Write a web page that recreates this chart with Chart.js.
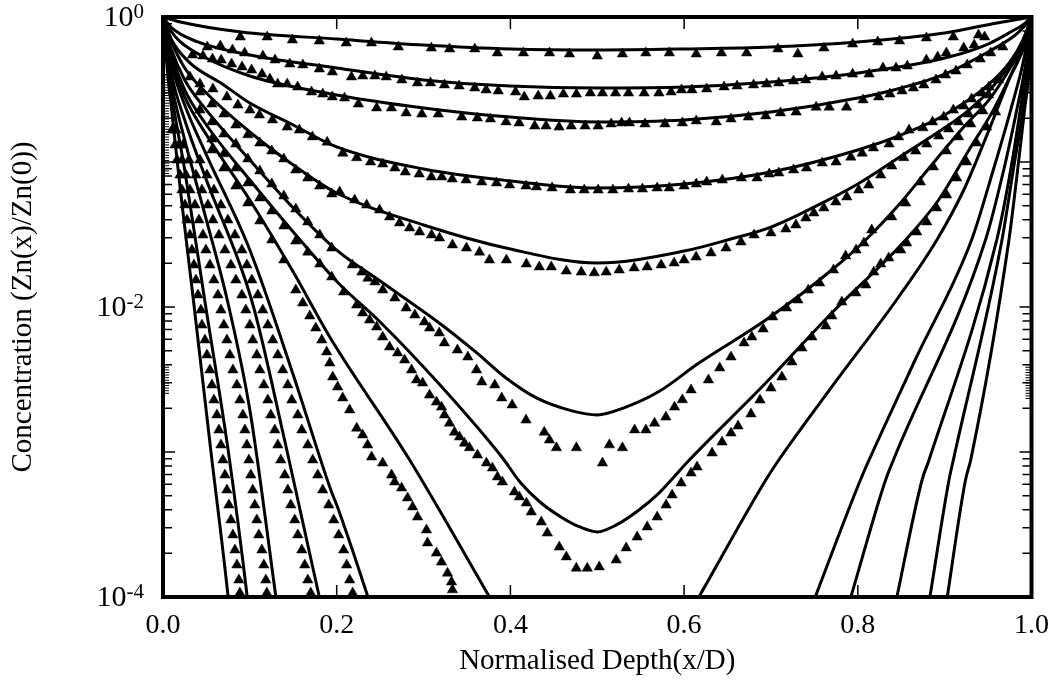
<!DOCTYPE html>
<html>
<head>
<meta charset="utf-8">
<script src="https://cdn.jsdelivr.net/npm/chart.js@4.4.1/dist/chart.umd.min.js"></script>
<style>
  html, body { margin: 0; padding: 0; background: #fff; }
  #wrap { width: 1061px; height: 685px; }
</style>
</head>
<body>
<div id="wrap"><canvas id="chart" width="1061" height="685"></canvas></div>
<script>
// ---- Axis ticks and labels ----
const xTickValues = [0, 0.2, 0.4, 0.6, 0.8, 1.0];
const yMajorTickValues = [1, 0.1, 0.01, 0.001, 0.0001];
const yMinorTickValues = [
  0.9, 0.8, 0.7, 0.6, 0.5, 0.4, 0.3, 0.2,
  0.09, 0.08, 0.07, 0.06, 0.05, 0.04, 0.03, 0.02,
  0.009, 0.008, 0.007, 0.006, 0.005, 0.004, 0.003, 0.002,
  0.0009, 0.0008, 0.0007, 0.0006, 0.0005, 0.0004, 0.0003, 0.0002
];
// bands where the printed axis carries very closely packed small ticks
const yDenseBandsLeft = [[0.40, 0.08], [0.0040, 0.0025]];
const yDenseBandsRight = [[0.39, 0.30], [0.0040, 0.0023]];
const yLabelValues = [1, 0.01, 0.0001];
const yLabelExponents = ['0', '-2', '-4'];

// ---- Model profiles (solid lines), depth x/D and Zn(x)/Zn(0) ----
const lineDepth1 = [0, 0.02, 0.09, 0.2, 0.3, 0.4, 0.5, 0.6, 0.7, 0.8, 0.9, 0.96, 0.98, 1];
const lineConc1 = [1, 0.924, 0.788, 0.705, 0.641, 0.602, 0.592, 0.602, 0.621, 0.673, 0.776, 0.909, 0.953, 1];

const lineDepth2 = [0, 0.01, 0.04, 0.1, 0.2, 0.3, 0.4, 0.5, 0.6, 0.7, 0.8, 0.9, 0.95, 0.98, 0.99, 1];
const lineConc2 = [1, 0.84, 0.673, 0.547, 0.445, 0.368, 0.334, 0.324, 0.329, 0.356, 0.411, 0.521, 0.651, 0.813, 0.881, 1];

const lineDepth3 = [0, 0.01, 0.02, 0.045, 0.1, 0.2, 0.3, 0.4, 0.5, 0.6, 0.7, 0.8, 0.85, 0.9, 0.95, 0.98, 0.99, 1];
const lineConc3 = [1, 0.788, 0.673, 0.538, 0.392, 0.290, 0.236, 0.204, 0.189, 0.195, 0.221, 0.276, 0.324, 0.404, 0.574, 0.740, 0.840, 1];

const lineDepth4 = [0, 0.01, 0.03, 0.07, 0.1, 0.15, 0.2, 0.3, 0.4, 0.5, 0.6, 0.7, 0.8, 0.85, 0.9, 0.95, 0.975, 0.99, 1];
const lineConc4 = [1, 0.694, 0.489, 0.340, 0.255, 0.180, 0.127, 0.0895, 0.0740, 0.0662, 0.0705, 0.0853, 0.121, 0.154, 0.211, 0.340, 0.489, 0.694, 1];

const lineDepth5 = [0, 0.01, 0.025, 0.05, 0.1, 0.15, 0.2, 0.3, 0.4, 0.5, 0.6, 0.65, 0.7, 0.75, 0.8, 0.85, 0.9, 0.925, 0.95, 0.975, 0.99, 1];
const lineConc5 = [1, 0.673, 0.445, 0.299, 0.161, 0.0954, 0.0611, 0.0368, 0.0251, 0.0201, 0.0243, 0.0290, 0.0356, 0.0490, 0.0705, 0.110, 0.172, 0.221, 0.304, 0.467, 0.66, 1];

const lineDepth6 = [0, 0.01, 0.025, 0.05, 0.1, 0.15, 0.2, 0.25, 0.318, 0.36, 0.395, 0.43, 0.471, 0.5, 0.53, 0.57, 0.617, 0.694, 0.77, 0.809, 0.847, 0.885, 0.924, 0.951, 0.974, 0.991, 1];
const lineConc6 = [1, 0.592, 0.368, 0.228, 0.1032, 0.0482, 0.0247, 0.0151, 0.00776, 0.00490, 0.00324, 0.00236, 0.00192, 0.00180, 0.00201, 0.00259, 0.00411, 0.00813, 0.0180, 0.0290, 0.0505, 0.0954, 0.180, 0.268, 0.431, 0.66, 1];

const lineDepth7 = [0, 0.01, 0.025, 0.05, 0.1, 0.15, 0.203, 0.25, 0.318, 0.391, 0.411, 0.434, 0.46, 0.48, 0.5, 0.522, 0.548, 0.571, 0.606, 0.694, 0.770, 0.855, 0.893, 0.928, 0.956, 0.979, 0.993, 1];
const lineConc7 = [1, 0.547, 0.314, 0.180, 0.0751, 0.0329, 0.0144, 0.00788, 0.00294, 0.000909, 0.000621, 0.000452, 0.000351, 0.000304, 0.000281, 0.000314, 0.000398, 0.000521, 0.000881, 0.00299, 0.00909, 0.0290, 0.0547, 0.121, 0.228, 0.431, 0.66, 1];

const lineDepth8 = [0, 0.01, 0.025, 0.05, 0.1, 0.15, 0.192, 0.284, 0.376, 0.422, 0.5, 0.571, 0.617, 0.694, 0.709, 0.770, 0.847, 0.891, 0.922, 0.951, 0.974, 0.991, 1];
const lineConc8 = [1, 0.505, 0.281, 0.154, 0.0547, 0.0174, 0.00621, 0.000881, 0.0001, 3.34e-5, 1.5e-5, 3.34e-5, 0.0001, 0.000641, 0.000881, 0.00281, 0.01172, 0.0290, 0.0641, 0.166, 0.368, 0.62, 1];

const lineDepth9 = [0, 0.01, 0.025, 0.05, 0.1, 0.15, 0.192, 0.203, 0.236, 0.259, 0.5, 0.726, 0.751, 0.803, 0.813, 0.866, 0.931, 0.956, 0.976, 0.991, 1];
const lineConc9 = [1, 0.467, 0.247, 0.112, 0.0247, 0.00340, 0.000574, 0.000386, 0.0001, 3.68e-5, 1e-7, 3.98e-5, 0.0001, 0.000641, 0.000881, 0.00431, 0.0290, 0.0881, 0.228, 0.505, 1];

const lineDepth10 = [0, 0.01, 0.025, 0.05, 0.102, 0.14, 0.18, 0.195, 0.5, 0.772, 0.792, 0.832, 0.841, 0.947, 0.968, 0.983, 0.994, 1];
const lineConc10 = [1, 0.398, 0.195, 0.0751, 0.01117, 0.00121, 0.0001, 3.68e-5, 1e-8, 3.98e-5, 0.0001, 0.000641, 0.000881, 0.0290, 0.0881, 0.228, 0.505, 1];

const lineDepth11 = [0, 0.005, 0.01, 0.025, 0.05, 0.074, 0.1, 0.13, 0.14, 0.5, 0.831, 0.845, 0.874, 0.882, 0.960, 0.976, 0.987, 0.995, 1];
const lineConc11 = [1, 0.547, 0.340, 0.142, 0.0398, 0.01117, 0.00195, 0.0001, 3.68e-5, 1e-8, 3.98e-5, 0.0001, 0.000641, 0.000881, 0.0290, 0.0881, 0.228, 0.505, 1];

const lineDepth12 = [0, 0.005, 0.01, 0.025, 0.048, 0.075, 0.097, 0.105, 0.5, 0.872, 0.883, 0.905, 0.910, 0.966, 0.979, 0.990, 0.997, 1];
const lineConc12 = [1, 0.505, 0.290, 0.0881, 0.01117, 0.00103, 0.0001, 3.68e-5, 1e-8, 3.98e-5, 0.0001, 0.000641, 0.000881, 0.0290, 0.0881, 0.228, 0.505, 1];

const lineDepth13 = [0, 0.005, 0.01, 0.02, 0.035, 0.055, 0.075, 0.082, 0.5, 0.893, 0.903, 0.924, 0.930, 0.974, 0.984, 0.992, 0.998, 1];
const lineConc13 = [1, 0.431, 0.228, 0.0641, 0.01117, 0.00103, 0.0001, 3.68e-5, 1e-8, 3.98e-5, 0.0001, 0.000641, 0.000881, 0.0290, 0.0881, 0.228, 0.505, 1];

// ---- Measured profiles (triangles) ----
const triDepth1 = [0.089, 0.120, 0.149, 0.180, 0.211, 0.240, 0.271, 0.309, 0.330, 0.359, 0.385, 0.415, 0.445, 0.468, 0.500, 0.529, 0.556, 0.583, 0.614, 0.643, 0.672, 0.708, 0.731, 0.761, 0.794, 0.823, 0.848, 0.879, 0.910, 0.939];
const triConc1 = [0.728, 0.728, 0.694, 0.683, 0.662, 0.662, 0.621, 0.611, 0.602, 0.602, 0.565, 0.565, 0.565, 0.556, 0.538, 0.556, 0.565, 0.565, 0.556, 0.565, 0.565, 0.602, 0.556, 0.611, 0.651, 0.673, 0.683, 0.717, 0.728, 0.751];

const triDepth2 = [0.051, 0.066, 0.080, 0.094, 0.115, 0.129, 0.146, 0.161, 0.180, 0.195, 0.217, 0.230, 0.244, 0.257, 0.275, 0.293, 0.308, 0.324, 0.341, 0.359, 0.372, 0.386, 0.406, 0.416, 0.432, 0.446, 0.461, 0.476, 0.492, 0.506, 0.521, 0.536, 0.554, 0.571, 0.585, 0.597, 0.609, 0.626, 0.646, 0.661, 0.680, 0.695, 0.709, 0.726, 0.740, 0.759, 0.775, 0.794, 0.813, 0.829, 0.844, 0.857, 0.879, 0.892, 0.902, 0.922, 0.934, 0.946];
const triConc2 = [0.621, 0.631, 0.592, 0.565, 0.538, 0.505, 0.474, 0.467, 0.438, 0.418, 0.386, 0.392, 0.392, 0.386, 0.368, 0.351, 0.351, 0.340, 0.334, 0.324, 0.314, 0.309, 0.304, 0.281, 0.285, 0.285, 0.294, 0.294, 0.299, 0.299, 0.299, 0.299, 0.299, 0.299, 0.304, 0.314, 0.314, 0.319, 0.329, 0.334, 0.340, 0.345, 0.351, 0.362, 0.368, 0.386, 0.392, 0.404, 0.404, 0.445, 0.445, 0.459, 0.505, 0.530, 0.565, 0.611, 0.641, 0.728];

const triDepth3 = [0.034, 0.046, 0.057, 0.067, 0.079, 0.091, 0.102, 0.114, 0.123, 0.132, 0.143, 0.155, 0.171, 0.184, 0.195, 0.209, 0.225, 0.246, 0.263, 0.280, 0.298, 0.317, 0.344, 0.362, 0.377, 0.395, 0.410, 0.428, 0.441, 0.456, 0.470, 0.486, 0.501, 0.516, 0.528, 0.537, 0.555, 0.578, 0.598, 0.614, 0.637, 0.654, 0.674, 0.694, 0.711, 0.729, 0.752, 0.767, 0.787, 0.806, 0.824, 0.837, 0.851, 0.864, 0.876, 0.890, 0.901, 0.913, 0.926, 0.941, 0.953, 0.967];
const triConc3 = [0.547, 0.538, 0.513, 0.505, 0.474, 0.452, 0.431, 0.404, 0.374, 0.345, 0.345, 0.329, 0.304, 0.294, 0.281, 0.276, 0.251, 0.236, 0.236, 0.218, 0.214, 0.214, 0.204, 0.201, 0.198, 0.189, 0.186, 0.177, 0.177, 0.174, 0.177, 0.177, 0.177, 0.183, 0.186, 0.186, 0.183, 0.183, 0.186, 0.192, 0.189, 0.198, 0.204, 0.208, 0.218, 0.221, 0.239, 0.239, 0.239, 0.268, 0.281, 0.294, 0.309, 0.324, 0.340, 0.368, 0.398, 0.424, 0.467, 0.513, 0.565, 0.621];

const triDepth4 = [0.0425, 0.0575, 0.0736, 0.0862, 0.100, 0.111, 0.126, 0.143, 0.157, 0.172, 0.189, 0.207, 0.223, 0.239, 0.253, 0.267, 0.279, 0.295, 0.309, 0.321, 0.333, 0.349, 0.367, 0.384, 0.399, 0.418, 0.430, 0.448, 0.469, 0.485, 0.501, 0.518, 0.536, 0.552, 0.569, 0.583, 0.600, 0.614, 0.626, 0.644, 0.666, 0.684, 0.698, 0.709, 0.726, 0.741, 0.759, 0.775, 0.792, 0.805, 0.818, 0.836, 0.847, 0.859, 0.875, 0.886, 0.899, 0.910, 0.922, 0.931, 0.943, 0.951, 0.962];
const triConc4 = [0.345, 0.319, 0.281, 0.247, 0.228, 0.211, 0.195, 0.174, 0.166, 0.149, 0.137, 0.115, 0.107, 0.100, 0.0969, 0.0909, 0.0853, 0.0826, 0.0788, 0.0788, 0.0763, 0.0751, 0.0728, 0.0717, 0.0694, 0.0683, 0.0673, 0.0662, 0.0641, 0.0641, 0.0641, 0.0641, 0.0651, 0.0651, 0.0662, 0.0662, 0.0683, 0.0705, 0.0728, 0.0751, 0.0776, 0.0776, 0.0826, 0.0840, 0.0881, 0.0909, 0.0984, 0.100, 0.108, 0.115, 0.125, 0.133, 0.149, 0.166, 0.172, 0.189, 0.204, 0.228, 0.243, 0.272, 0.299, 0.329, 0.368];

const triDepth5 = [0.031, 0.0425, 0.0563, 0.0701, 0.0839, 0.0977, 0.1115, 0.1253, 0.1391, 0.1529, 0.1667, 0.1805, 0.1943, 0.2034, 0.2207, 0.2345, 0.2494, 0.2609, 0.2724, 0.2839, 0.2954, 0.3092, 0.3184, 0.3333, 0.3494, 0.3644, 0.3759, 0.3954, 0.4184, 0.4333, 0.4471, 0.4644, 0.4816, 0.4966, 0.5103, 0.5253, 0.5425, 0.5575, 0.5736, 0.5885, 0.6, 0.6138, 0.6310, 0.6483, 0.6655, 0.6805, 0.7, 0.7172, 0.7287, 0.7402, 0.7494, 0.7609, 0.7747, 0.7874, 0.8011, 0.8126, 0.8264, 0.8391, 0.8529, 0.8667, 0.8793, 0.8931, 0.9046, 0.9161, 0.9276, 0.9391, 0.9506];
const triConc5 = [0.386, 0.304, 0.251, 0.214, 0.180, 0.154, 0.135, 0.119, 0.105, 0.0881, 0.0776, 0.0683, 0.0602, 0.0621, 0.0547, 0.0505, 0.0467, 0.0418, 0.0380, 0.0351, 0.0329, 0.0314, 0.0299, 0.0268, 0.0255, 0.0239, 0.0211, 0.0211, 0.0198, 0.0189, 0.0189, 0.0177, 0.0174, 0.0172, 0.0174, 0.0180, 0.0186, 0.0189, 0.0195, 0.0201, 0.0211, 0.0221, 0.0236, 0.0255, 0.0281, 0.0314, 0.0324, 0.0345, 0.0368, 0.0411, 0.0445, 0.0482, 0.0530, 0.0574, 0.0641, 0.0694, 0.0813, 0.0938, 0.107, 0.119, 0.133, 0.151, 0.169, 0.189, 0.214, 0.247, 0.290];

const triDepth6 = [0.0425, 0.0563, 0.0701, 0.0839, 0.0977, 0.1115, 0.1253, 0.1391, 0.1529, 0.1667, 0.1805, 0.1943, 0.218, 0.229, 0.236, 0.244, 0.253, 0.267, 0.280, 0.290, 0.301, 0.307, 0.318, 0.324, 0.339, 0.351, 0.361, 0.367, 0.382, 0.390, 0.402, 0.418, 0.439, 0.445, 0.453, 0.476, 0.506, 0.514, 0.529, 0.543, 0.556, 0.566, 0.579, 0.589, 0.598, 0.608, 0.628, 0.641, 0.654, 0.669, 0.678, 0.691, 0.702, 0.718, 0.731, 0.743, 0.756, 0.772, 0.786, 0.798, 0.807, 0.816, 0.839, 0.855, 0.872, 0.887, 0.902, 0.916, 0.930, 0.944];
const triConc6 = [0.228, 0.189, 0.156, 0.133, 0.105, 0.0867, 0.0705, 0.0583, 0.0474, 0.0386, 0.0314, 0.0255, 0.0195, 0.0174, 0.0158, 0.0149, 0.0131, 0.01154, 0.00984, 0.00881, 0.00788, 0.00716, 0.00662, 0.00565, 0.00505, 0.00452, 0.00368, 0.00304, 0.00290, 0.00236, 0.00211, 0.00166, 0.00137, 0.00121, 0.00107, 0.00107, 0.000839, 0.00112, 0.00107, 0.00142, 0.00142, 0.00158, 0.00174, 0.00204, 0.00229, 0.00268, 0.00314, 0.00380, 0.00452, 0.00565, 0.00621, 0.00705, 0.00853, 0.00984, 0.01117, 0.0131, 0.01465, 0.0180, 0.0225, 0.0247, 0.0276, 0.0340, 0.0418, 0.0521, 0.0728, 0.0924, 0.119, 0.149, 0.183, 0.225];

const triDepth7 = [0.0563, 0.0701, 0.0839, 0.0977, 0.1115, 0.1253, 0.1391, 0.1529, 0.1667, 0.1805, 0.1943, 0.2080, 0.2230, 0.2299, 0.2379, 0.2460, 0.2529, 0.2609, 0.2701, 0.2782, 0.2862, 0.2920, 0.2989, 0.3069, 0.3149, 0.3207, 0.3241, 0.3299, 0.3356, 0.3414, 0.3471, 0.3529, 0.3621, 0.3724, 0.3793, 0.3851, 0.3908, 0.4046, 0.4103, 0.4184, 0.4241, 0.4356, 0.4425, 0.4563, 0.4644, 0.4759, 0.4885, 0.5023, 0.5218, 0.5333, 0.5460, 0.5575, 0.5690, 0.5793, 0.5862, 0.5966, 0.6080, 0.6149, 0.6322, 0.6437, 0.6540, 0.6621, 0.6770, 0.6874, 0.7, 0.7126, 0.7241, 0.7356, 0.7471, 0.7632, 0.7701, 0.7816, 0.7977, 0.8092, 0.8184, 0.8264, 0.8356, 0.8494, 0.8563, 0.8678, 0.8793, 0.8908, 0.9023, 0.9138, 0.9253, 0.9368, 0.9483, 0.9586];
const triConc7 = [0.144, 0.114, 0.0909, 0.0717, 0.0565, 0.0459, 0.0362, 0.0285, 0.0239, 0.0198, 0.0161, 0.01269, 0.01032, 0.00909, 0.00813, 0.00728, 0.00621, 0.00530, 0.00482, 0.00431, 0.00368, 0.00314, 0.00299, 0.00247, 0.00221, 0.00204, 0.00180, 0.00158, 0.00137, 0.00127, 0.00115, 0.00107, 0.000953, 0.000839, 0.000776, 0.000673, 0.000621, 0.000530, 0.000490, 0.000445, 0.000386, 0.000329, 0.000276, 0.000221, 0.000189, 0.000158, 0.000158, 0.000161, 0.000180, 0.000218, 0.000259, 0.000304, 0.000356, 0.000431, 0.000505, 0.000611, 0.000716, 0.000788, 0.000984, 0.00117, 0.00135, 0.00151, 0.00183, 0.00228, 0.00276, 0.00329, 0.00418, 0.00521, 0.00621, 0.00740, 0.00867, 0.01082, 0.01250, 0.01418, 0.0174, 0.0198, 0.0218, 0.0247, 0.0276, 0.0329, 0.0386, 0.0482, 0.0592, 0.0776, 0.100, 0.135, 0.174, 0.221];

const triDepth8 = [0.0563, 0.0701, 0.0839, 0.0977, 0.1115, 0.1253, 0.1391, 0.1529, 0.1609, 0.1690, 0.1759, 0.1828, 0.1885, 0.1920, 0.1954, 0.2011, 0.2069, 0.2149, 0.2230, 0.2299, 0.2356, 0.2402, 0.2529, 0.2632, 0.2667, 0.2747, 0.2816, 0.2874, 0.2931, 0.3034, 0.3046, 0.3149, 0.3207, 0.3276, 0.3322, 0.3333];
const triConc8 = [0.121, 0.0909, 0.0683, 0.0521, 0.0392, 0.0290, 0.0211, 0.0131, 0.01066, 0.00867, 0.00716, 0.00592, 0.00490, 0.00411, 0.00329, 0.00281, 0.00236, 0.00195, 0.00146, 0.00131, 0.001118, 0.000924, 0.000839, 0.000694, 0.000621, 0.000565, 0.000482, 0.000418, 0.000356, 0.000290, 0.000236, 0.000201, 0.000174, 0.000146, 0.000127, 0.000112];

const triDepth9 = [0.0425, 0.0506, 0.0586, 0.0667, 0.0747, 0.0828, 0.0908, 0.0966, 0.1023, 0.1092, 0.1149, 0.1207, 0.1264, 0.1322, 0.1379, 0.1437, 0.1483, 0.1552, 0.1598, 0.1667, 0.1724, 0.1782, 0.1839, 0.1908, 0.1966, 0.2023, 0.2080, 0.2115, 0.2149, 0.2184];
const triConc9 = [0.1032, 0.0813, 0.0641, 0.0505, 0.0398, 0.03138, 0.02472, 0.01949, 0.01535, 0.01210, 0.00953, 0.00751, 0.00592, 0.00467, 0.00368, 0.00290, 0.002284, 0.001800, 0.001418, 0.001118, 0.000881, 0.000694, 0.000547, 0.000431, 0.000340, 0.000268, 0.000211, 0.0001662, 0.0001310, 0.0001065];

const triDepth10 = [0.0149, 0.0230, 0.0299, 0.0379, 0.0448, 0.0517, 0.0575, 0.0644, 0.0713, 0.0782, 0.0839, 0.0908, 0.0954, 0.1, 0.1034, 0.1080, 0.1115, 0.1161, 0.1207, 0.1241, 0.1287, 0.1322, 0.1356, 0.1402, 0.1437, 0.1471, 0.1517, 0.1552, 0.1598, 0.1632, 0.1667, 0.1701];
const triConc10 = [0.1662, 0.1310, 0.1032, 0.0813, 0.0641, 0.0505, 0.0398, 0.03138, 0.02472, 0.01949, 0.01535, 0.01210, 0.00953, 0.00751, 0.00592, 0.00467, 0.00368, 0.00290, 0.002284, 0.001800, 0.001418, 0.001118, 0.000881, 0.000694, 0.000547, 0.000431, 0.000340, 0.000268, 0.000211, 0.0001662, 0.0001310, 0.0001065];

const triDepth11 = [0.0138, 0.0184, 0.0218, 0.0264, 0.0310, 0.0368, 0.0414, 0.0460, 0.0494, 0.0540, 0.0586, 0.0632, 0.0667, 0.0701, 0.0736, 0.0770, 0.0805, 0.0851, 0.0885, 0.0920, 0.0943, 0.0966, 0.0989, 0.1011, 0.1034, 0.1057, 0.1080, 0.1103, 0.1138, 0.1161, 0.1184, 0.1195];
const triConc11 = [0.1662, 0.1310, 0.1032, 0.0813, 0.0641, 0.0505, 0.0398, 0.03138, 0.02472, 0.01949, 0.01535, 0.01210, 0.00953, 0.00751, 0.00592, 0.00467, 0.00368, 0.00290, 0.002284, 0.001800, 0.001418, 0.001118, 0.000881, 0.000694, 0.000547, 0.000431, 0.000340, 0.000268, 0.000211, 0.0001662, 0.0001310, 0.0001065];

const triDepth12 = [0.0103, 0.0138, 0.0161, 0.0195, 0.0218, 0.0253, 0.0276, 0.0310, 0.0333, 0.0356, 0.0379, 0.0402, 0.0437, 0.0448, 0.0483, 0.0506, 0.0540, 0.0563, 0.0586, 0.0621, 0.0644, 0.0667, 0.0690, 0.0713, 0.0736, 0.0759, 0.0782, 0.0805, 0.0828, 0.0851, 0.0874, 0.0885];
const triConc12 = [0.1662, 0.1310, 0.1032, 0.0813, 0.0641, 0.0505, 0.0398, 0.03138, 0.02472, 0.01949, 0.01535, 0.01210, 0.00953, 0.00751, 0.00592, 0.00467, 0.00368, 0.00290, 0.002284, 0.001800, 0.001418, 0.001118, 0.000881, 0.000694, 0.000547, 0.000431, 0.000340, 0.000268, 0.000211, 0.0001662, 0.0001310, 0.0001065];

const modelLines = [
  [lineDepth1, lineConc1], [lineDepth2, lineConc2], [lineDepth3, lineConc3], [lineDepth4, lineConc4],
  [lineDepth5, lineConc5], [lineDepth6, lineConc6], [lineDepth7, lineConc7], [lineDepth8, lineConc8],
  [lineDepth9, lineConc9], [lineDepth10, lineConc10], [lineDepth11, lineConc11], [lineDepth12, lineConc12],
  [lineDepth13, lineConc13]
];
const measuredSets = [
  [triDepth1, triConc1], [triDepth2, triConc2], [triDepth3, triConc3], [triDepth4, triConc4],
  [triDepth5, triConc5], [triDepth6, triConc6], [triDepth7, triConc7], [triDepth8, triConc8],
  [triDepth9, triConc9], [triDepth10, triConc10], [triDepth11, triConc11], [triDepth12, triConc12]
];

const serif = '"Liberation Serif", "Times New Roman", Times, serif';
const toPoints = (xs, ys) => xs.map((x, i) => ({ x: x, y: ys[i] }));

const datasets = [];
modelLines.forEach(([xs, ys]) => {
  datasets.push({
    data: toPoints(xs, ys),
    showLine: true,
    borderColor: '#000',
    borderWidth: 3,
    pointRadius: 0,
    cubicInterpolationMode: 'monotone',
    capBezierPoints: false,
    clip: 2
  });
});
measuredSets.forEach(([xs, ys]) => {
  datasets.push({
    data: toPoints(xs, ys),
    showLine: false,
    pointStyle: 'triangle',
    pointRadius: 6,
    backgroundColor: '#000',
    borderColor: '#000',
    borderWidth: 0.5,
    clip: 8
  });
});

// Frame, inward tick marks and the power-of-ten labels on the concentration axis
const frameAndTicks = {
  id: 'frameAndTicks',
  afterDatasetsDraw(chart) {
    const { ctx, chartArea: a, scales: { x, y } } = chart;
    ctx.save();
    ctx.strokeStyle = '#000';
    ctx.lineWidth = 1.5;
    ctx.beginPath();
    xTickValues.forEach(v => {
      const px = x.getPixelForValue(v);
      ctx.moveTo(px, a.bottom); ctx.lineTo(px, a.bottom - 12);
      ctx.moveTo(px, a.top); ctx.lineTo(px, a.top + 12);
    });
    yMajorTickValues.forEach(v => {
      const py = y.getPixelForValue(v);
      ctx.moveTo(a.left, py); ctx.lineTo(a.left + 12, py);
      ctx.moveTo(a.right, py); ctx.lineTo(a.right - 12, py);
    });
    yMinorTickValues.forEach(v => {
      const py = y.getPixelForValue(v);
      ctx.moveTo(a.left, py); ctx.lineTo(a.left + 9, py);
      ctx.moveTo(a.right, py); ctx.lineTo(a.right - 9, py);
    });
    ctx.stroke();

    // closely packed ticks along parts of both vertical axes
    ctx.lineWidth = 1;
    ctx.beginPath();
    const band = (edge, dir, [hi, lo]) => {
      const p0 = y.getPixelForValue(hi), p1 = y.getPixelForValue(lo);
      for (let p = p0; p <= p1; p += 2.6) {
        ctx.moveTo(edge, p); ctx.lineTo(edge + dir * 6, p);
      }
    };
    yDenseBandsLeft.forEach(b => band(a.left, 1, b));
    yDenseBandsRight.forEach(b => band(a.right, -1, b));
    ctx.stroke();

    ctx.lineWidth = 4;
    ctx.strokeRect(a.left, a.top, a.right - a.left, a.bottom - a.top);

    ctx.fillStyle = '#000';
    const right = a.left - 19;
    yLabelValues.forEach((v, i) => {
      const py = y.getPixelForValue(v);
      ctx.font = '21px ' + serif;
      const ew = ctx.measureText(yLabelExponents[i]).width;
      ctx.textAlign = 'left';
      ctx.textBaseline = 'alphabetic';
      ctx.fillText(yLabelExponents[i], right - ew, py + 1);
      ctx.font = '30px ' + serif;
      ctx.textAlign = 'right';
      ctx.textBaseline = 'middle';
      ctx.fillText('10', right - ew, py + 1);
    });
    ctx.restore();
  }
};

new Chart(document.getElementById('chart'), {
  type: 'scatter',
  data: { datasets },
  plugins: [frameAndTicks],
  options: {
    responsive: false,
    animation: false,
    devicePixelRatio: 1,
    events: [],
    layout: { padding: { left: 0, right: 28, top: 17, bottom: 0 } },
    plugins: { legend: { display: false }, tooltip: { enabled: false } },
    scales: {
      x: {
        type: 'linear',
        min: 0,
        max: 1,
        afterFit: s => { s.height = 88; },
        afterBuildTicks: s => { s.ticks = xTickValues.map(v => ({ value: v })); },
        grid: { display: false, drawTicks: false },
        border: { display: false },
        ticks: {
          color: '#000',
          padding: 12,
          maxRotation: 0,
          font: { family: serif, size: 28 },
          callback: v => Number(v).toFixed(1)
        },
        title: {
          display: true,
          text: 'Normalised Depth(x/D)',
          color: '#000',
          font: { family: serif, size: 29 },
          padding: { top: 0, bottom: 6 }
        }
      },
      y: {
        type: 'logarithmic',
        min: 0.0001,
        max: 1,
        afterFit: s => { s.width = 163; },
        grid: { display: false, drawTicks: false },
        border: { display: false },
        ticks: { display: false },
        title: {
          display: true,
          text: 'Concentration (Zn(x)/Zn(0))',
          color: '#000',
          font: { family: serif, size: 29 },
          padding: { top: 6, bottom: 0 }
        }
      }
    }
  }
});
</script>
